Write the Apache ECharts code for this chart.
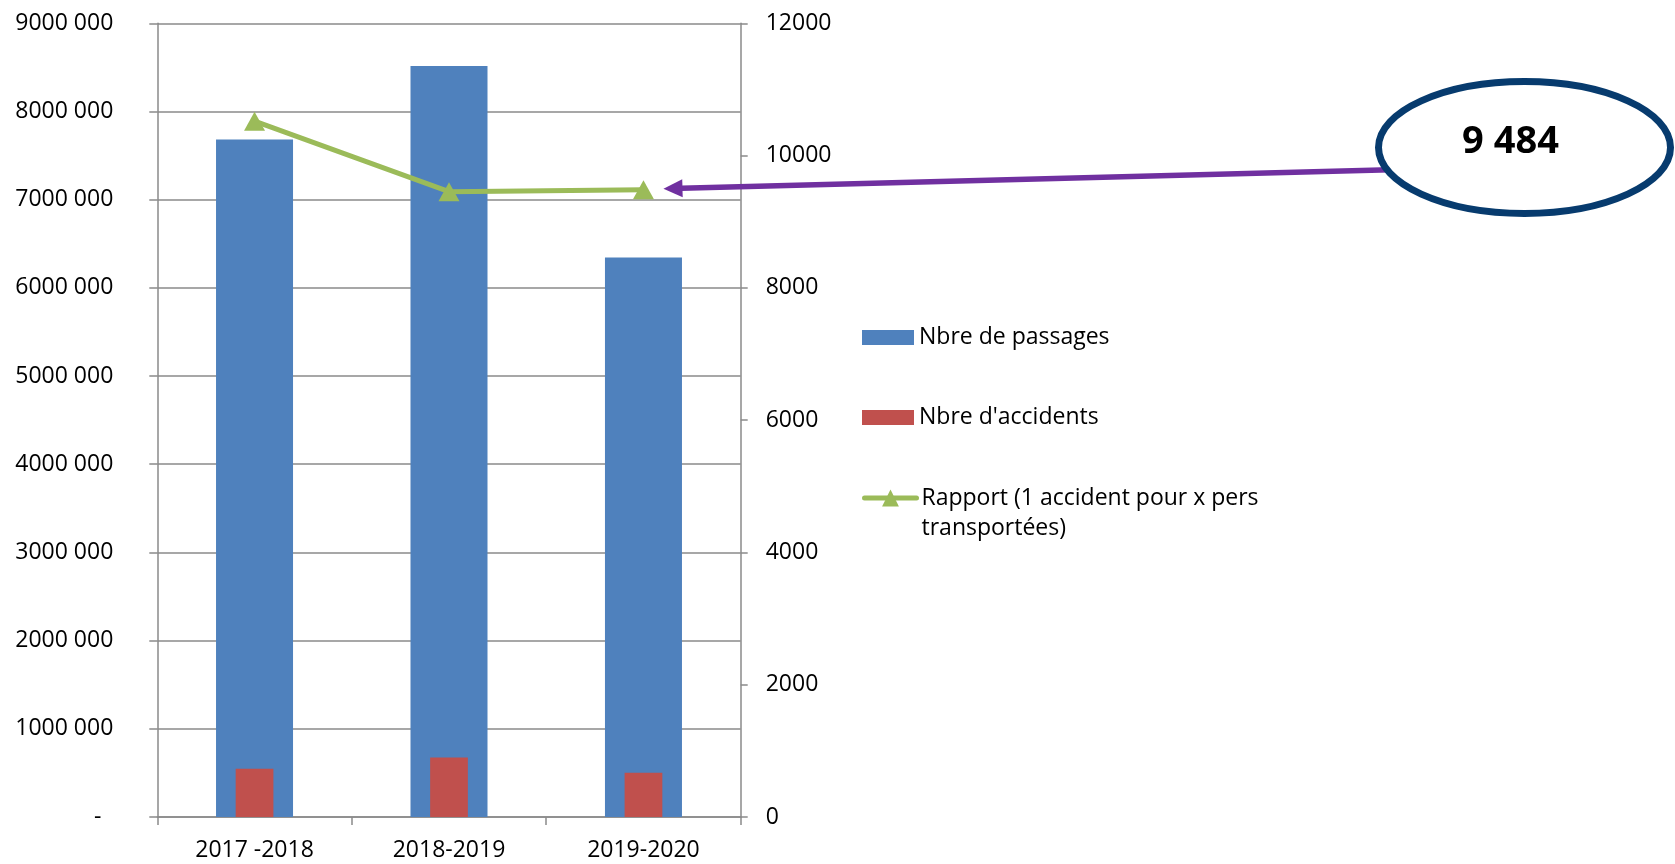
<!DOCTYPE html>
<html>
<head>
<meta charset="utf-8">
<script src="https://cdn.jsdelivr.net/npm/echarts@6/dist/echarts.min.js"></script>
<style>
html,body{margin:0;padding:0;background:#fff;}
#c{width:1675px;height:864px;}
</style>
</head>
<body>
<div id="c"></div>
<script>
// ---- data ----
const categories = ['2017 -2018', '2018-2019', '2019-2020'];
const passages = [7683000, 8515000, 6344000];
const accidents = [728, 900, 669];
const rapport = [10520, 9455, 9484];
const seriesNames = ['Nbre de passages', "Nbre d'accidents", 'Rapport (1 accident pour x pers\ntransportées)'];
const leftTicks = { min: 0, max: 9000000, interval: 1000000 };
const rightTicks = { min: 0, max: 12000, interval: 2000 };
const highlightIndex = 2;

// ---- styles ----
const FONT = 'Open Sans';
const GRAY = '#8a8a8a';
const BLUE = '#4F81BD';
const RED = '#C0504D';
const GREEN = '#9BBB59';
const PURPLE = '#7030A0';
const NAVY = '#073B6E';

function fmtLeft(v) {
  if (v === 0) return '-  ';
  const th = Math.floor(v / 1000);
  const rest = String(v % 1000).padStart(3, '0');
  return th + ' ' + rest;
}
function fmtSpace(v) {
  const s = String(Math.round(v));
  return s.replace(/\B(?=(\d{3})+(?!\d))/g, ' ');
}

const chart = echarts.init(document.getElementById('c'), null, { renderer: 'canvas' });

const legendBase = {
  orient: 'vertical', left: 862, padding: 0, itemWidth: 52, itemHeight: 15,
  textStyle: { fontFamily: FONT, fontSize: 23, color: '#000', lineHeight: 30 },
  selectedMode: false
};

const option = {
  animation: false,
  backgroundColor: '#fff',
  textStyle: { fontFamily: FONT },
  grid: { left: 157.3, right: 934.3, top: 23.3, bottom: 47, containLabel: false },
  legend: [
    Object.assign({}, legendBase, { top: 322.5, icon: 'rect', data: [seriesNames[0]] }),
    Object.assign({}, legendBase, { top: 402.5, icon: 'rect', data: [seriesNames[1]] }),
    Object.assign({}, legendBase, {
      top: 453, itemHeight: 21,
      lineStyle: { width: 5, cap: 'round' },
      formatter: function (name) { return '\n' + name; },
      data: [seriesNames[2]]
    })
  ],
  xAxis: [
    {
      type: 'category', data: categories, position: 'bottom',
      axisLine: { lineStyle: { color: GRAY, width: 1.5 } },
      axisTick: { show: true, length: 8, lineStyle: { color: GRAY, width: 1.5 } },
      axisLabel: { fontFamily: FONT, fontSize: 23, color: '#000', margin: 22 },
      splitLine: { show: false }
    },
    { type: 'category', data: categories, show: false }
  ],
  yAxis: [
    {
      type: 'value', position: 'left', min: leftTicks.min, max: leftTicks.max, interval: leftTicks.interval,
      axisLine: { show: true, lineStyle: { color: GRAY, width: 1.5 } },
      axisTick: { show: true, length: 8, lineStyle: { color: GRAY, width: 1.5 } },
      axisLabel: { fontFamily: FONT, fontSize: 23, color: '#000', margin: 44, formatter: fmtLeft },
      splitLine: { show: true, lineStyle: { color: GRAY, width: 1.5 } }
    },
    {
      type: 'value', position: 'right', min: rightTicks.min, max: rightTicks.max, interval: rightTicks.interval,
      axisLine: { show: true, lineStyle: { color: GRAY, width: 1.5 } },
      axisTick: { show: true, length: 7, lineStyle: { color: GRAY, width: 1.5 } },
      axisLabel: { fontFamily: FONT, fontSize: 23, color: '#000', margin: 25, formatter: function (v) { return String(v); } },
      splitLine: { show: false }
    }
  ],
  series: [
    {
      name: seriesNames[0], type: 'bar', xAxisIndex: 0, yAxisIndex: 0,
      data: passages, barWidth: '39.6%', itemStyle: { color: BLUE }, z: 2
    },
    {
      name: seriesNames[1], type: 'bar', xAxisIndex: 1, yAxisIndex: 1,
      data: accidents, barWidth: '19.4%', itemStyle: { color: RED }, z: 3
    },
    {
      name: seriesNames[2], type: 'line', xAxisIndex: 0, yAxisIndex: 1,
      data: rapport, symbol: 'triangle', symbolSize: [21, 19], showSymbol: true,
      lineStyle: { color: GREEN, width: 5 }, itemStyle: { color: GREEN }, z: 5
    }
  ]
};
chart.setOption(option);

// ---- annotation: ellipse + arrow to highlighted point ----
const pt = chart.convertToPixel({ xAxisIndex: 0, yAxisIndex: 1 }, [highlightIndex, rapport[highlightIndex]]);
const ell = { cx: 1524.5, cy: 147.5, rx: 146, ry: 66 };
const tip = [pt[0] + 20, pt[1] - 1];
const start = [1400, 169.5];
const dx = start[0] - tip[0], dy = start[1] - tip[1];
const len = Math.sqrt(dx * dx + dy * dy);
const ux = dx / len, uy = dy / len;
const headLen = 19, headHalf = 9;
const base = [tip[0] + ux * headLen, tip[1] + uy * headLen];
const p1 = [base[0] - uy * headHalf, base[1] + ux * headHalf];
const p2 = [base[0] + uy * headHalf, base[1] - ux * headHalf];

chart.setOption({
  graphic: [
    {
      type: 'line', z: 10,
      shape: { x1: start[0], y1: start[1], x2: base[0] - ux * 1, y2: base[1] - uy * 1 },
      style: { stroke: PURPLE, lineWidth: 5.5 }
    },
    {
      type: 'polygon', z: 10,
      shape: { points: [tip, p1, p2] },
      style: { fill: PURPLE }
    },
    {
      type: 'ellipse', z: 11,
      shape: ell,
      style: { fill: '#fff', stroke: NAVY, lineWidth: 7 }
    },
    {
      type: 'text', z: 12,
      x: ell.cx - 14, y: ell.cy - 5,
      style: {
        text: fmtSpace(rapport[highlightIndex]),
        font: 'bold 38px "Open Sans"', fill: '#000',
        align: 'center', verticalAlign: 'middle'
      }
    }
  ]
});
</script>
</body>
</html>
